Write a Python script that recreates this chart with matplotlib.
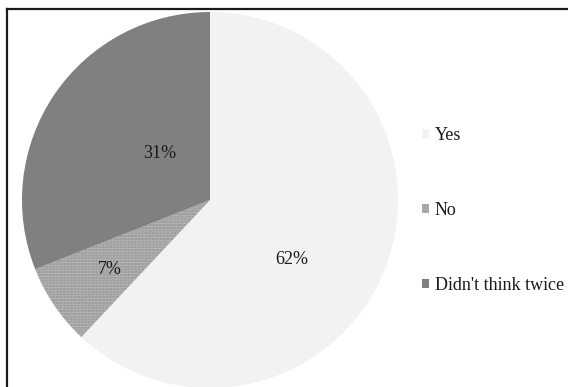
import matplotlib.pyplot as plt
from matplotlib.lines import Line2D
from matplotlib.patches import Patch

# 数据
labels = ["Yes", "No", "Didn't think twice"]
shares = [62, 7, 31]
colors = ["#f2f2f2", "#c0c0c0", "#808080"]
hatches = [None, "......", None]
# 百分比文字位置（饼图坐标，半径=1）
pct_pos = [(0.436, -0.319), (-0.532, -0.372), (-0.266, 0.25)]

plt.rcParams['font.family'] = ['Liberation Serif', 'DejaVu Serif']
plt.rcParams['hatch.linewidth'] = 1.3

fig = plt.figure(figsize=(5.68, 3.87), dpi=100)
ax = fig.add_axes([22 / 568, -1 / 387, 376 / 568, 376 / 387])

wedges, _ = ax.pie(shares, colors=colors, startangle=90, counterclock=False,
                   wedgeprops=dict(linewidth=0))
for w, h in zip(wedges, hatches):
    if h:
        w.set_hatch(h)
        w.set_edgecolor('#8a8a8a')
        w.set_linewidth(0)

for s, (x, y) in zip(shares, pct_pos):
    ax.text(x, y, f"{s}%", ha='center', va='center', fontsize=13, color='#1a1a1a')

ax.set_xlim(-1, 1)
ax.set_ylim(-1, 1)
ax.set_aspect('auto')
ax.axis('off')

handles = [Patch(facecolor=c, hatch=h, edgecolor='#8a8a8a' if h else 'none', linewidth=0)
           for c, h in zip(colors, hatches)]
leg = fig.legend(handles, labels, loc='upper left', bbox_to_anchor=(422 / 568, 1 - 127 / 387),
                 frameon=False, fontsize=13, handlelength=0.4, handleheight=0.4,
                 handletextpad=0.3, labelspacing=3.2, borderpad=0, borderaxespad=0)
for t in leg.get_texts():
    t.set_color('#1a1a1a')

# 左、上边框
fig.add_artist(Line2D([7 / 568, 7 / 568], [0, 1 - 9 / 387], color='#1a1a1a', linewidth=1.6))
fig.add_artist(Line2D([7 / 568, 1], [1 - 9 / 387, 1 - 9 / 387], color='#1a1a1a', linewidth=1.6))

plt.savefig("out.png")
